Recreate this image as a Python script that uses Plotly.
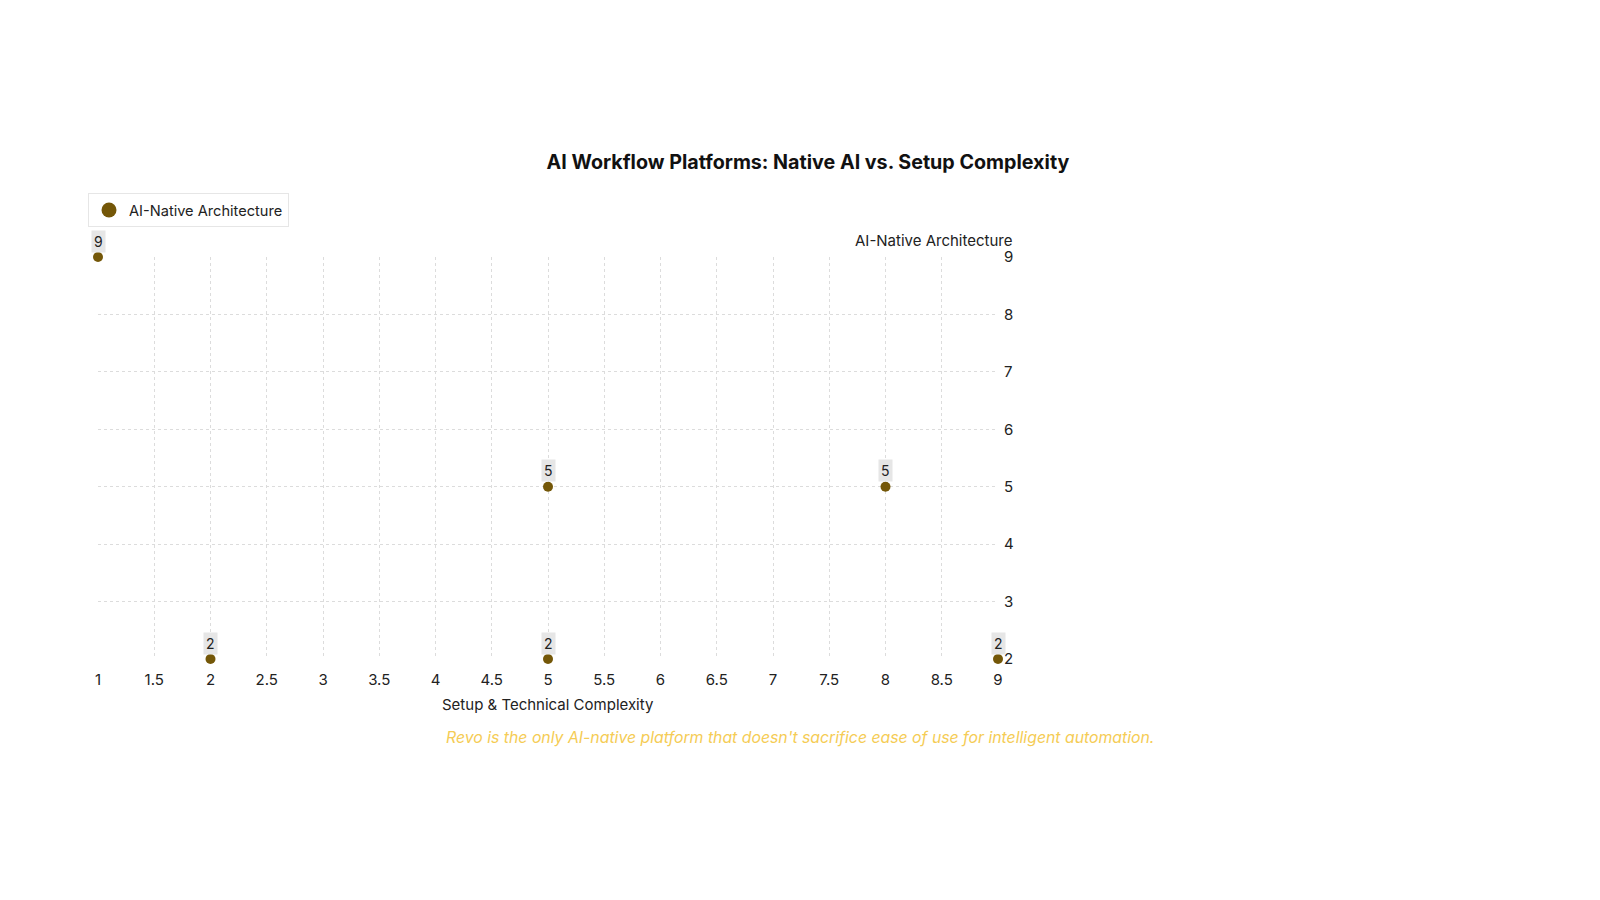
import plotly.graph_objects as go

series_name = "AI-Native Architecture"
complexity = [1, 2, 5, 5, 8, 9]
ai_native = [9, 2, 5, 2, 5, 2]
x_ticks = [1, 1.5, 2, 2.5, 3, 3.5, 4, 4.5, 5, 5.5, 6, 6.5, 7, 7.5, 8, 8.5, 9]
y_ticks = [2, 3, 4, 5, 6, 7, 8, 9]

title = "AI Workflow Platforms: Native AI vs. Setup Complexity"
x_title = "Setup & Technical Complexity"
note = "Revo is the only AI-native platform that doesn't sacrifice ease of use for intelligent automation."

FONT = "Inter, Roboto, sans-serif"
MARK = "#745708"

W, H = 1600, 900
L, R, T, B = 90, 610, 249, 249
PW, PH = W - L - R, H - T - B


def px_to_paper(px, py):
    return (px - L) / PW, (H - B - py) / PH


fig = go.Figure()
fig.add_trace(go.Scatter(
    x=complexity, y=ai_native, mode="markers", name=series_name,
    marker=dict(color=MARK, size=10), showlegend=False,
    cliponaxis=False,
))
# legend entry with a larger symbol
fig.add_trace(go.Scatter(
    x=[None], y=[None], mode="markers", name=series_name,
    marker=dict(color=MARK, size=15), showlegend=True,
))

for xv, yv in zip(complexity, ai_native):
    fig.add_annotation(
        x=xv, y=yv, xref="x", yref="y", text=str(yv), showarrow=False,
        yshift=16, bgcolor="#e6e6e6", borderpad=2,
        font=dict(family=FONT, size=14, color="#222"),
    )

fig.add_annotation(
    x=1, y=1, xref="paper", yref="paper", text=series_name, showarrow=False,
    xanchor="right", yanchor="bottom", yshift=5, xshift=16,
    font=dict(family=FONT, size=15, color="#222"),
)
fig.add_annotation(
    x=0.5, y=0, xref="paper", yref="paper", text=x_title, showarrow=False,
    xanchor="center", yanchor="top", yshift=-34,
    font=dict(family=FONT, size=15, color="#222"),
)
nx, ny = px_to_paper(792, 729)
fig.add_annotation(
    x=nx, y=ny, xref="paper", yref="paper", text=f"<i>{note}</i>", showarrow=False,
    xanchor="center", yanchor="middle",
    font=dict(family=FONT, size=15.8, color="#f5cc55"),
)

grid = dict(showgrid=True, gridcolor="#dcdcdc", griddash="dot", gridwidth=1,
            zeroline=False, showline=False, ticks="",
            tickfont=dict(family=FONT, size=15, color="#222"))

fig.update_layout(
    width=W, height=H,
    paper_bgcolor="white", plot_bgcolor="white",
    margin=dict(l=L, r=R, t=T, b=B, autoexpand=False),
    title=dict(text=f"<b>{title}</b>", x=0.5, xanchor="center", y=1 - 154 / H,
               yanchor="middle", font=dict(family=FONT, size=19.7, color="#111")),
    showlegend=True,
    legend=dict(x=80 / W, y=1 - 202 / H, xref="container", yref="container",
                xanchor="left", yanchor="middle", orientation="h",
                bordercolor="#e6e6e6", borderwidth=1, bgcolor="white",
                itemwidth=30,
                font=dict(family=FONT, size=14.6, color="#222")),
    xaxis=dict(range=[1, 9], tickvals=x_ticks, ticktext=[f"{v:g}" for v in x_ticks],
               ticklabelstandoff=10, **grid),
    yaxis=dict(range=[2, 9], tickvals=y_ticks, side="right", ticklabelstandoff=5, **grid),
)

fig.write_html("out.html")
